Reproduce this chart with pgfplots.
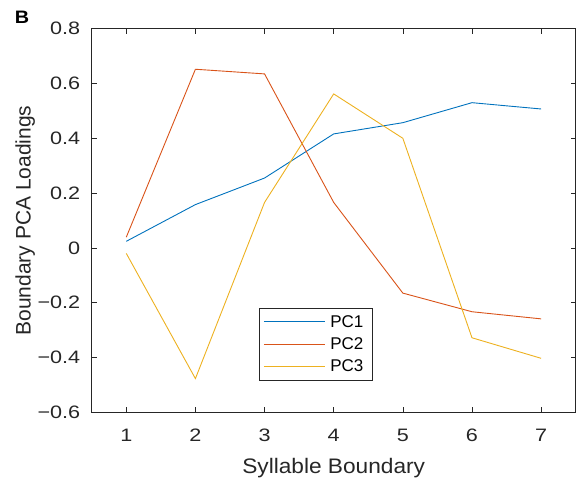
\documentclass[border=0pt]{standalone}
\usepackage{fontspec}
\setmainfont{Liberation Sans}
\usepackage{pgfplots}
\pgfplotsset{compat=1.18}
\definecolor{mblue}{rgb}{0,0.447,0.741}
\definecolor{morange}{rgb}{0.85,0.325,0.098}
\definecolor{myellow}{rgb}{0.929,0.694,0.125}
\definecolor{axgray}{rgb}{0.15,0.15,0.15}
\begin{document}
\begin{tikzpicture}[x=1pt,y=1pt]
\begin{axis}[
  at={(0,0)}, anchor=south west,
  scale only axis, width=484pt, height=383.6pt,
  xmin=0.5, xmax=7.5, ymin=-0.6, ymax=0.8,
  xtick={1,2,3,4,5,6,7},
  xticklabels={1,2,3,4,5,6,7},
  ytick={-0.6,-0.4,-0.2,0,0.2,0.4,0.6,0.8},
  yticklabels={−0.6,−0.4,−0.2,0,0.2,0.4,0.6,0.8},
  tick align=inside, major tick length=5pt,
  axis line style={axgray, line width=0.6pt},
  every tick/.style={axgray, line width=0.6pt},
  every tick label/.append style={text=axgray, font=\fontsize{18}{20}\selectfont, xscale=1.2},
  xticklabel style={anchor=base, yshift=-29.4pt},
  yticklabel style={xshift=-6pt},
  xlabel={Syllable Boundary},
  ylabel={Boundary PCA Loadings},
  every axis x label/.style={at={(axis description cs:0.5,0)}, anchor=base,
    yshift=-61pt, font=\fontsize{21}{24}\selectfont, xscale=1.08, text=axgray},
  every axis y label/.style={at={(axis description cs:0,0.5)}, anchor=base,
    xshift=-61pt, rotate=90, font=\fontsize{21}{24}\selectfont, text=axgray},
  legend style={at={(rel axis cs:0.346,0.272)}, anchor=north west,
    draw=axgray, line width=0.6pt, font=\fontsize{17}{19}\selectfont,
    inner xsep=4pt, inner ysep=5pt, row sep=5pt,
    nodes={inner xsep=5pt}},
  legend cell align=left,
  legend image code/.code={\draw[#1, line width=0.9pt] (0pt,0pt) -- (61pt,0pt);},
]
\addplot[mblue, line width=0.9pt] coordinates {
  (1,0.024) (2,0.158) (3,0.255) (4,0.416) (5,0.457) (6,0.530) (7,0.507)};
\addlegendentry{PC1}
\addplot[morange, line width=0.9pt] coordinates {
  (1,0.039) (2,0.652) (3,0.635) (4,0.166) (5,-0.165) (6,-0.233) (7,-0.259)};
\addlegendentry{PC2}
\addplot[myellow, line width=0.9pt] coordinates {
  (1,-0.020) (2,-0.477) (3,0.166) (4,0.562) (5,0.400) (6,-0.328) (7,-0.403)};
\addlegendentry{PC3}
\end{axis}
\node[font=\fontsize{18}{20}\selectfont\bfseries, xscale=1.1] at (-69.7,395.3) {B};
\pgfresetboundingbox
\path[use as bounding box] (-91.7,-67.7) rectangle (484.3,412.3);
\end{tikzpicture}
\end{document}
